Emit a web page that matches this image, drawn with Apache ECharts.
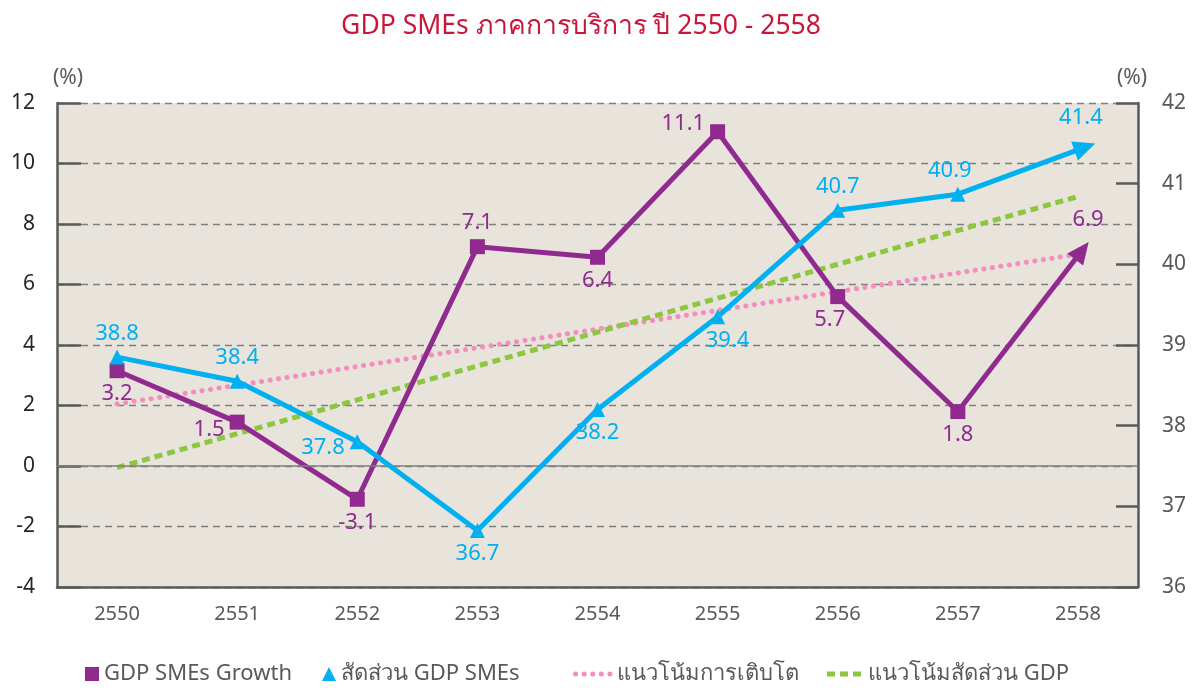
<!DOCTYPE html>
<html>
<head>
<meta charset="utf-8">
<script src="https://cdn.jsdelivr.net/npm/echarts@6/dist/echarts.min.js"></script>
<style>
  html, body { margin: 0; padding: 0; background: #fff; }
  #chart { width: 1195px; height: 691px; }
</style>
</head>
<body>
<div id="chart"></div>
<script>
// data
const years = ['2550', '2551', '2552', '2553', '2554', '2555', '2556', '2557', '2558']
const growth = [3.15, 1.45, -1.1, 7.25, 6.9, 11.05, 5.6, 1.8, 6.95]
const growthLabels = ['3.2', '1.5', '-3.1', '7.1', '6.4', '11.1', '5.7', '1.8', '6.9']
const share = [38.85, 38.55, 37.8, 36.7, 38.2, 39.35, 40.67, 40.87, 41.42]
const shareLabels = ['38.8', '38.4', '37.8', '36.7', '38.2', '39.4', '40.7', '40.9', '41.4']
// trend lines, value at first and last year
const growthTrend = [2.05, 7.0]
const shareTrend = [37.48, 40.84]
const leftTicks = [-4, 12, 2]
const rightTicks = [36, 42, 1]

const PURPLE = '#912A8F'
const BLUE = '#00B0F0'
const PINK = '#F58DBE'
const GREEN = '#8DC63F'
const TXT = '#595959'
const FONT = '"Noto Sans", "Open Sans", sans-serif'

// label placement per point (styling only)
const growthPos = [['bottom', [0, 0]], ['left', [0, 8]], ['bottom', [0, 0]], ['top', [0, 0]], ['bottom', [0, 0]],
    ['left', [0, -8]], ['bottom', [-8, 0]], ['bottom', [0, 0]], ['top', [6, 0]]]
const sharePos = [['top', [0, 0]], ['top', [0, 0]], ['left', [0, 6]], ['bottom', [0, 0]], ['bottom', [0, 0]],
    ['bottom', [10, 0]], ['top', [0, 0]], ['top', [-8, 0]], ['top', [-4, 0]]]

const last = years.length - 1

const growthData = growth.map((v, i) => ({
    value: v,
    symbol: i === last ? 'triangle' : 'rect',
    symbolSize: i === last ? [20, 22] : 15,
    symbolRotate: i === last ? -37.6 : 0,
    symbolOffset: i === last ? [4, -5] : [0, 0],
    label: { formatter: growthLabels[i], position: growthPos[i][0], offset: growthPos[i][1] }
}))

const shareData = share.map((v, i) => ({
    value: v,
    symbol: 'triangle',
    symbolSize: i === last ? [20, 22] : [15, 15],
    symbolRotate: i === last ? -70.3 : 0,
    symbolOffset: i === last ? [7, -2.5] : [0, 0],
    label: { formatter: shareLabels[i], position: sharePos[i][0], offset: sharePos[i][1] }
}))

let option = {
    animation: false,
    textStyle: { fontFamily: FONT },
    title: {
        text: 'GDP SMEs ภาคการบริการ ปี 2550 - 2558',
        left: 576,
        textAlign: 'center',
        top: 8,
        textStyle: { color: '#C8173A', fontSize: 26.5, fontWeight: 'normal', fontFamily: FONT }
    },
    grid: {
        left: 57, right: 57, top: 103, bottom: 104,
        show: true, backgroundColor: '#E8E4DB', borderWidth: 0
    },
    legend: [{
        left: 80, bottom: 1,
        itemWidth: 14, itemHeight: 14, itemGap: 30,
        textStyle: { color: TXT, fontSize: 22, fontFamily: FONT },
        data: [
            { name: 'GDP SMEs Growth', icon: 'rect' },
            { name: 'สัดส่วน GDP SMEs', icon: 'triangle' }
        ]
    }, {
        left: 568, bottom: 1,
        itemWidth: 36, itemHeight: 14, itemGap: 26,
        textStyle: { color: TXT, fontSize: 22, fontFamily: FONT },
        lineStyle: { width: 5 },
        data: [
            { name: 'แนวโน้มการเติบโต', itemStyle: { opacity: 0 } },
            { name: 'แนวโน้มสัดส่วน GDP', itemStyle: { opacity: 0 } }
        ]
    }],
    xAxis: {
        type: 'category',
        data: years,
        boundaryGap: true,
        axisLine: { onZero: false, lineStyle: { color: TXT, width: 2.5 } },
        axisTick: { inside: true, alignWithLabel: true, length: 12, lineStyle: { color: TXT, width: 2 } },
        axisLabel: { color: TXT, fontSize: 20, margin: 17 }
    },
    yAxis: [{
        type: 'value',
        min: leftTicks[0], max: leftTicks[1], interval: leftTicks[2],
        name: '(%)',
        nameLocation: 'end',
        nameGap: 14,
        nameTextStyle: { color: TXT, fontSize: 21, padding: [0, 0, 0, 22] },
        axisLine: { show: true, lineStyle: { color: TXT, width: 2.5 } },
        axisTick: { show: true, inside: true, length: 24, lineStyle: { color: TXT, width: 2.5 } },
        axisLabel: { color: '#262626', fontSize: 21, margin: 22 },
        splitLine: { show: true, lineStyle: { color: '#7F7F7F', width: 1.3, type: [7, 5] } }
    }, {
        type: 'value',
        position: 'right',
        min: rightTicks[0], max: rightTicks[1], interval: rightTicks[2],
        name: '(%)',
        nameLocation: 'end',
        nameGap: 14,
        nameTextStyle: { color: TXT, fontSize: 21, padding: [0, 12, 0, 0] },
        axisLine: { show: true, lineStyle: { color: TXT, width: 2.5 } },
        axisTick: { show: true, inside: true, length: 22, lineStyle: { color: TXT, width: 2.5 } },
        axisLabel: { color: TXT, fontSize: 21, margin: 24 },
        splitLine: { show: false }
    }],
    series: [{
        name: 'GDP SMEs Growth',
        type: 'line',
        yAxisIndex: 0,
        z: 4,
        data: growthData,
        itemStyle: { color: PURPLE },
        lineStyle: { color: PURPLE, width: 5 },
        label: { show: true, color: PURPLE, fontSize: 22 },
        markLine: {
            silent: true,
            symbol: 'none',
            label: { show: false },
            lineStyle: { color: '#7F7F7F', width: 1.5, type: 'solid' },
            data: [{ yAxis: 0 }]
        }
    }, {
        name: 'สัดส่วน GDP SMEs',
        type: 'line',
        yAxisIndex: 1,
        z: 5,
        data: shareData,
        itemStyle: { color: BLUE },
        lineStyle: { color: BLUE, width: 5 },
        label: { show: true, color: BLUE, fontSize: 22 }
    }, {
        name: 'แนวโน้มการเติบโต',
        type: 'line',
        yAxisIndex: 0,
        z: 3,
        symbol: 'none',
        data: [[years[0], growthTrend[0]], [years[last], growthTrend[1]]],
        itemStyle: { color: PINK },
        lineStyle: { color: PINK, width: 5, type: [0.1, 8.5], cap: 'round' }
    }, {
        name: 'แนวโน้มสัดส่วน GDP',
        type: 'line',
        yAxisIndex: 1,
        z: 3,
        symbol: 'none',
        data: [[years[0], shareTrend[0]], [years[last], shareTrend[1]]],
        itemStyle: { color: GREEN },
        lineStyle: { color: GREEN, width: 5, type: [8, 5] }
    }]
}

let chart = echarts.init(document.getElementById('chart'))
chart.setOption(option)
</script>
</body>
</html>
